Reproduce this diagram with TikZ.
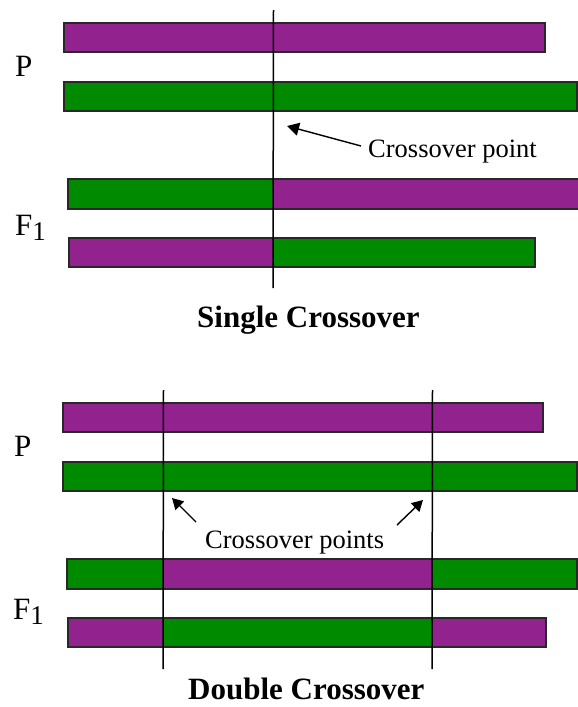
\documentclass[tikz,border=0pt]{standalone}
\usepackage{fontspec}
\setmainfont{Liberation Serif}
\usetikzlibrary{arrows.meta}
\definecolor{chrpurple}{RGB}{146,34,142}
\definecolor{chrgreen}{RGB}{0,138,0}
\definecolor{edge}{RGB}{40,40,40}
\tikzset{
  seg/.style={draw=edge, line width=1.2pt},
  xline/.style={draw=black, line width=1.5pt},
  ptr/.style={draw=black, line width=1.4pt, -{Triangle[length=12pt,width=13pt]}},
  ptrsmall/.style={draw=black, line width=1.4pt, -{Triangle[length=11pt,width=12pt]}},
  lbl/.style={inner sep=0pt, anchor=base west, font=\fontsize{26.5}{30}\selectfont},
  gen/.style={inner sep=0pt, anchor=base west, font=\fontsize{31}{34}\selectfont},
  ttl/.style={inner sep=0pt, anchor=base west, font=\fontsize{31}{34}\selectfont\bfseries}
}
\newcommand{\fone}{F\raisebox{-5pt}{\fontsize{27}{27}\selectfont 1}}
\begin{document}
\begin{tikzpicture}[x=1pt,y=-1pt]
\useasboundingbox (0,0) rectangle (578,707);
% ---------- Single crossover ----------
\fill[chrpurple] (64,23) rectangle (545,52);  \draw[seg] (64,23) rectangle (545,52);
\fill[chrgreen]  (64,82) rectangle (577,111); \draw[seg] (64,82) rectangle (577,111);
\fill[chrgreen]  (68,179) rectangle (273,209);
\fill[chrpurple] (273,179) rectangle (580,209); \draw[seg] (68,179) rectangle (580,209);
\fill[chrpurple] (69,238) rectangle (273,267);
\fill[chrgreen]  (273,238) rectangle (535,267); \draw[seg] (69,238) rectangle (535,267);
\coordinate (s1top) at (273.5,10);
\coordinate (s1bot) at (273,288);
\draw[xline] (s1top) -- (s1bot);
\node[gen] (pA) at (15,76) {P};
\node[gen] (fA) at (15,235) {\fone};
\node[lbl] (cpA) at (368,157) {Crossover point};
\coordinate (aAtail) at (361,146);
\coordinate (aAtip) at (287,126);
\draw[ptr] (aAtail) -- (aAtip);
\node[ttl] (tA) at (197,327) {Single Crossover};
% ---------- Double crossover ----------
\fill[chrpurple] (63,403) rectangle (543,432); \draw[seg] (63,403) rectangle (543,432);
\fill[chrgreen]  (63,462) rectangle (577,491); \draw[seg] (63,462) rectangle (577,491);
\fill[chrgreen]  (67,559) rectangle (163,589);
\fill[chrpurple] (163,559) rectangle (432,589);
\fill[chrgreen]  (432,559) rectangle (577,589); \draw[seg] (67,559) rectangle (577,589);
\fill[chrpurple] (68,618) rectangle (163,647);
\fill[chrgreen]  (163,618) rectangle (432,647);
\fill[chrpurple] (432,618) rectangle (546,647); \draw[seg] (68,618) rectangle (546,647);
\coordinate (d1top) at (163.5,390);
\coordinate (d1bot) at (163,669);
\coordinate (d2top) at (432.5,390);
\coordinate (d2bot) at (432,669);
\draw[xline] (d1top) -- (d1bot);
\draw[xline] (d2top) -- (d2bot);
\node[gen] (pB) at (14,456) {P};
\node[gen] (fB) at (13,619) {\fone};
\node[lbl] (cpB) at (205,548) {Crossover points};
\coordinate (aBtail) at (196,522);
\coordinate (aBtip) at (172,498);
\coordinate (aCtail) at (397,525);
\coordinate (aCtip) at (423,500);
\draw[ptrsmall] (aBtail) -- (aBtip);
\draw[ptrsmall] (aCtail) -- (aCtip);
\node[ttl] (tB) at (188,699) {Double Crossover};
\end{tikzpicture}
\end{document}
